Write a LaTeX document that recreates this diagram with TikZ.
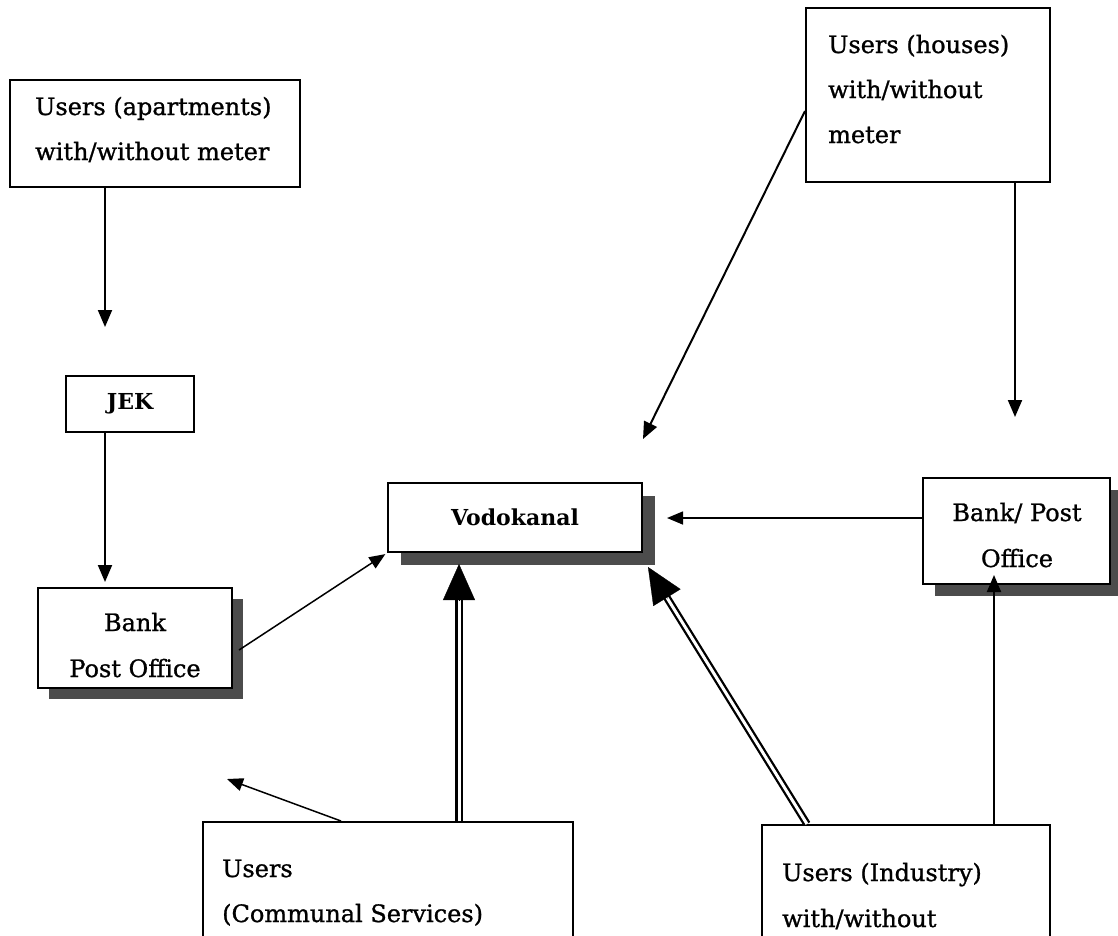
\documentclass[tikz,border=0pt]{standalone}
\usepackage{fontspec}
\setmainfont{DejaVu Serif}
\newfontfamily\heavyserif{DejaVu Serif}[FakeBold=1.0]
\usetikzlibrary{arrows.meta,calc,shadows}
\begin{document}
\begin{tikzpicture}[x=1pt,y=-1pt,
  box/.style={draw=black, line width=2pt, fill=white, inner sep=0pt},
  shbox/.style={box, drop shadow={shadow xshift=#1, shadow yshift=-#1, fill=black!70, opacity=1}},
  lbl/.style={font=\heavyserif\fontsize{24}{28}\selectfont, inner sep=0pt, anchor=base west},
  clbl/.style={font=\heavyserif\fontsize{24}{28}\selectfont, inner sep=0pt, anchor=base},
  blbl/.style={font=\fontsize{22}{26}\selectfont\bfseries, inner sep=0pt},
  arr/.style={line width=2pt, -{Triangle[length=17pt,width=14pt]}},
  thinarr/.style={line width=1.5pt, -{Triangle[length=16pt,width=13pt]}},
  dbl/.style={line width=2.3pt, double=white, double distance=3pt},
  bighead/.style={line width=0.3pt, -{Triangle[length=36pt,width=32pt]}},
]
\useasboundingbox (0,0) rectangle (1118,935);
\clip (0,0) rectangle (1118,935);

% boxes
\node[box, minimum width=290pt, minimum height=107pt] (apt) at (155,133.5) {};
\node[box, minimum width=244pt, minimum height=174pt] (hou) at (928,95) {};
\node[box, minimum width=128pt, minimum height=56pt] (jek) at (130,404) {};
\node[shbox=11pt, minimum width=194pt, minimum height=100pt] (lbank) at (135,638) {};
\node[shbox=13pt, minimum width=254pt, minimum height=69pt] (vod) at (515,517.5) {};
\node[shbox=12pt, minimum width=187pt, minimum height=106pt] (rbank) at (1016.5,531) {};
\node[box, minimum width=370pt, minimum height=128pt] (comm) at (388,886) {};
\node[box, minimum width=288pt, minimum height=125pt] (ind) at (906,887.5) {};

% texts
\node[lbl] (apt1) at (35,115) {Users (apartments)};
\node[lbl] (apt2) at (35,160) {with/without meter};
\node[lbl] (hou1) at (828,53) {Users (houses)};
\node[lbl] (hou2) at (828,98) {with/without};
\node[lbl] (hou3) at (828,143) {meter};
\node[blbl] (jekt) at (jek.center) {JEK};
\node[clbl] (lb1) at (135,631) {Bank};
\node[clbl] (lb2) at (135,677) {Post Office};
\node[blbl] (vodt) at (vod.center) {Vodokanal};
\node[clbl] (rb1) at (1017,521) {Bank/ Post};
\node[clbl] (rb2) at (1017,567) {Office};
\node[lbl] (cm1) at (222,877) {Users};
\node[lbl] (cm2) at (222,922) {(Communal Services)};
\node[lbl] (in1) at (782,881) {Users (Industry)};
\node[lbl] (in2) at (782,927) {with/without};

% connector columns and end points
\coordinate (xa) at (105,0);
\coordinate (xh) at (1015,0);
\coordinate (xi) at (994,0);
\coordinate (xc) at (459,0);
\coordinate (yr) at (0,518);
\coordinate (houout) at ($(hou.north west)+(0,104)$);
\coordinate (vodne) at ($(vod.north east)+(0,-43)$);
\coordinate (lbout) at ($(lbank.east)+(6,12)$);
\coordinate (commout) at ($(comm.north west)+(139,0)$);
\coordinate (lbin) at ($(lbank.south east)+(-6,90)$);
\coordinate (indout) at ($(ind.north west)+(46,0)$);
\coordinate (vodse) at ($(vod.south east)+(5,14)$);
\coordinate (vodsc) at ($(vod.south -| xc)+(0,11)$);

% single arrows
\draw[arr, shorten >=48pt] (apt.south -| xa) -- (jek.north -| xa);
\draw[arr, shorten >=5pt] (jek.south -| xa) -- (lbank.north -| xa);
\draw[arr] (houout) -- (vodne);
\draw[arr, shorten >=60pt] (hou.south -| xh) -- (rbank.north -| xh);
\draw[thinarr, shorten >=24pt] (rbank.west |- yr) -- (vod.east |- yr);
\draw[thinarr, shorten >=2pt] (lbout) -- (vod.south west);
\draw[thinarr] (commout) -- (lbin);
\draw[arr, shorten >=-10pt] (ind.north -| xi) -- (rbank.south -| xi);

% double arrows with large heads
\draw[dbl] (comm.north -| xc) -- ($(vodsc)!30pt!(comm.north -| xc)$);
\draw[bighead] ($(vodsc)!37pt!(comm.north -| xc)$) -- (vodsc);
\draw[dbl] (indout) -- ($(vodse)!30pt!(indout)$);
\draw[bighead] ($(vodse)!37pt!(indout)$) -- (vodse);
\end{tikzpicture}
\end{document}
